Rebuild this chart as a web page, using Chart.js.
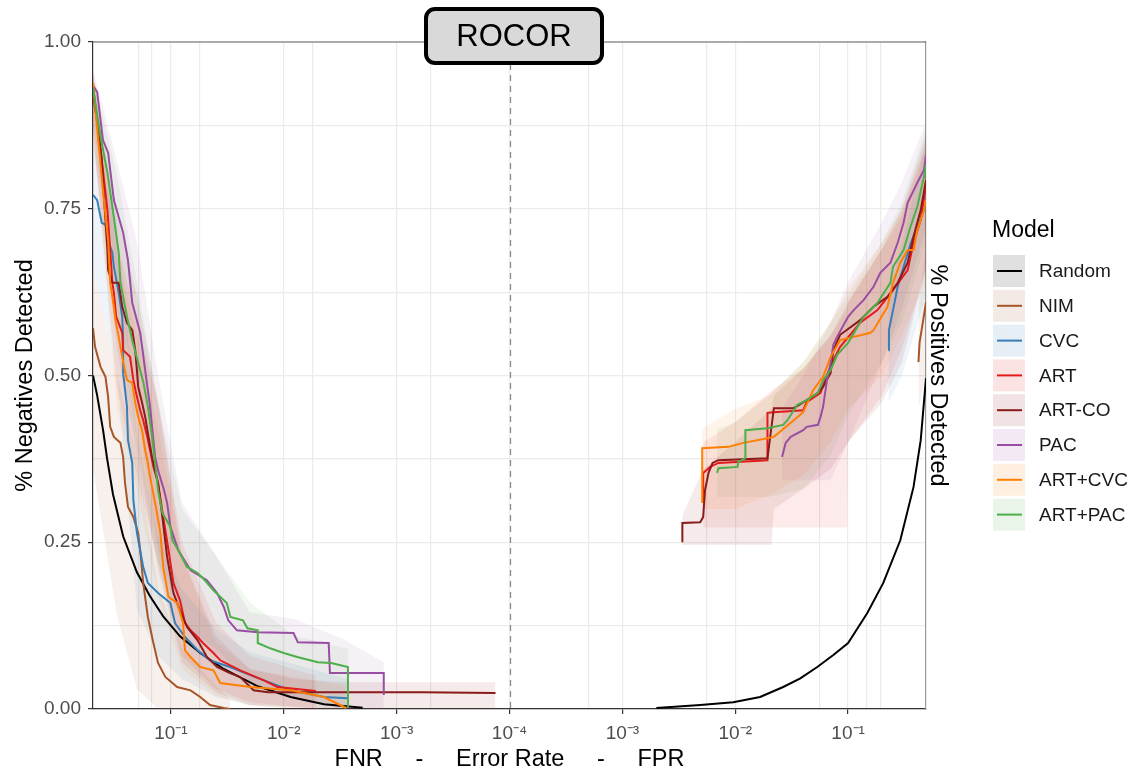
<!DOCTYPE html>
<html>
<head>
<meta charset="utf-8">
<title>ROCOR</title>
<script src="https://cdn.jsdelivr.net/npm/chart.js@4.4.1/dist/chart.umd.min.js"></script>
<style>
  html, body { margin: 0; padding: 0; background: #fff; }
</style>
</head>
<body>
<canvas id="rocChart" width="1132" height="775"></canvas>
<script>
// ---------- data ----------
const modelNames = ['Random', 'NIM', 'CVC', 'ART', 'ART-CO', 'PAC', 'ART+CVC', 'ART+PAC'];

// left half: FNR -> share of negatives detected
const randomFnr = [0.49, 0.451, 0.399, 0.368, 0.326, 0.265, 0.2, 0.153, 0.117, 0.083, 0.055, 0.034, 0.017, 0.0087, 0.0044, 0.002];
const randomNeg = [0.500, 0.471, 0.418, 0.376, 0.322, 0.259, 0.205, 0.169, 0.139, 0.109, 0.084, 0.060, 0.034, 0.018, 0.007, 0.002];
const nimFnr = [0.49, 0.47, 0.42, 0.38, 0.36, 0.345, 0.32, 0.28, 0.265, 0.255, 0.24, 0.215, 0.195, 0.187, 0.176, 0.16, 0.143, 0.13, 0.112, 0.088, 0.067, 0.055, 0.045, 0.034, 0.03];
const nimNeg = [0.571, 0.543, 0.513, 0.498, 0.468, 0.423, 0.408, 0.399, 0.378, 0.339, 0.303, 0.288, 0.264, 0.238, 0.189, 0.138, 0.099, 0.069, 0.048, 0.033, 0.028, 0.018, 0.006, 0.0015, 0];
const cvcFnr = [0.49, 0.45, 0.41, 0.38, 0.36, 0.33, 0.32, 0.29, 0.27, 0.265, 0.265, 0.245, 0.24, 0.22, 0.215, 0.2, 0.176, 0.16, 0.13, 0.101, 0.092, 0.075, 0.058, 0.045, 0.03, 0.015, 0.0087, 0.0044, 0.0027];
const cvcNeg = [0.771, 0.763, 0.729, 0.726, 0.703, 0.684, 0.663, 0.624, 0.588, 0.558, 0.504, 0.453, 0.403, 0.369, 0.313, 0.264, 0.213, 0.189, 0.174, 0.159, 0.129, 0.108, 0.088, 0.073, 0.063, 0.043, 0.028, 0.018, 0.016];
const artFnr = [0.49, 0.44, 0.40, 0.365, 0.345, 0.33, 0.32, 0.305, 0.27, 0.265, 0.23, 0.215, 0.2, 0.187, 0.176, 0.162, 0.153, 0.143, 0.13, 0.117, 0.105, 0.095, 0.083, 0.075, 0.067, 0.058, 0.052, 0.042, 0.0365, 0.0243, 0.015, 0.0114, 0.0052];
const artNeg = [0.921, 0.868, 0.808, 0.748, 0.688, 0.639, 0.624, 0.588, 0.564, 0.538, 0.528, 0.493, 0.468, 0.448, 0.433, 0.408, 0.388, 0.363, 0.339, 0.288, 0.238, 0.189, 0.163, 0.129, 0.118, 0.108, 0.099, 0.084, 0.073, 0.058, 0.043, 0.033, 0.027];
const acoFnr = [0.49, 0.45, 0.41, 0.39, 0.365, 0.36, 0.33, 0.29, 0.27, 0.245, 0.22, 0.207, 0.2, 0.195, 0.18, 0.169, 0.16, 0.147, 0.13, 0.119, 0.108, 0.095, 0.083, 0.072, 0.058, 0.048, 0.039, 0.03, 0.0243, 0.0185, 0.0138, 0.0006, 0.000133];
const acoNeg = [0.931, 0.883, 0.823, 0.763, 0.688, 0.658, 0.639, 0.639, 0.603, 0.579, 0.568, 0.538, 0.508, 0.483, 0.459, 0.438, 0.414, 0.378, 0.339, 0.288, 0.228, 0.174, 0.148, 0.123, 0.103, 0.078, 0.063, 0.054, 0.048, 0.028, 0.025, 0.025, 0.024];
const pacFnr = [0.49, 0.45, 0.40, 0.36, 0.32, 0.265, 0.24, 0.22, 0.187, 0.169, 0.153, 0.138, 0.13, 0.115, 0.108, 0.101, 0.086, 0.067, 0.048, 0.039, 0.034, 0.031, 0.026, 0.017, 0.0082, 0.0075, 0.004, 0.0039, 0.0013, 0.0013];
const pacNeg = [0.935, 0.925, 0.853, 0.834, 0.763, 0.714, 0.673, 0.609, 0.564, 0.508, 0.453, 0.378, 0.358, 0.328, 0.309, 0.273, 0.238, 0.208, 0.193, 0.174, 0.153, 0.133, 0.118, 0.115, 0.114, 0.100, 0.099, 0.054, 0.054, 0.021];
const acFnr = [0.49, 0.44, 0.40, 0.36, 0.345, 0.32, 0.31, 0.29, 0.27, 0.245, 0.22, 0.207, 0.195, 0.18, 0.169, 0.16, 0.153, 0.138, 0.124, 0.117, 0.105, 0.088, 0.078, 0.075, 0.067, 0.055, 0.042, 0.0365, 0.0198, 0.0087, 0.0044, 0.0028];
const acNeg = [0.939, 0.853, 0.778, 0.703, 0.639, 0.603, 0.583, 0.558, 0.528, 0.493, 0.489, 0.459, 0.438, 0.418, 0.388, 0.369, 0.348, 0.309, 0.264, 0.213, 0.168, 0.159, 0.129, 0.088, 0.078, 0.063, 0.058, 0.039, 0.033, 0.028, 0.018, 0.0015];
const apFnr = [0.49, 0.42, 0.365, 0.33, 0.29, 0.28, 0.245, 0.22, 0.195, 0.175, 0.16, 0.147, 0.138, 0.13, 0.119, 0.101, 0.097, 0.086, 0.072, 0.058, 0.050, 0.042, 0.032, 0.0297, 0.023, 0.021, 0.017, 0.017, 0.0132, 0.010, 0.0076, 0.005, 0.0038, 0.0027, 0.0027];
const apNeg = [0.931, 0.858, 0.804, 0.753, 0.684, 0.639, 0.588, 0.553, 0.519, 0.489, 0.453, 0.408, 0.369, 0.328, 0.294, 0.273, 0.253, 0.238, 0.213, 0.204, 0.193, 0.178, 0.159, 0.138, 0.133, 0.121, 0.118, 0.099, 0.091, 0.084, 0.078, 0.070, 0.069, 0.063, 0.003];

// right half: FPR -> share of positives detected
const randomFpr = [0.002, 0.0049, 0.0096, 0.0166, 0.0266, 0.0377, 0.0533, 0.074, 0.1, 0.148, 0.205, 0.29, 0.38, 0.44, 0.49];
const randomPos = [0.0015, 0.006, 0.010, 0.018, 0.033, 0.046, 0.063, 0.081, 0.099, 0.144, 0.189, 0.253, 0.333, 0.403, 0.496];
const nimFpr = [0.42, 0.43, 0.46, 0.49];
const nimPos = [0.52, 0.55, 0.58, 0.61];
const cvcFpr = [0.228, 0.23, 0.25, 0.275, 0.31, 0.36, 0.41, 0.49];
const cvcPos = [0.538, 0.568, 0.598, 0.633, 0.663, 0.699, 0.723, 0.756];
const artFpr = [0.0052, 0.0052, 0.006, 0.0071, 0.0193, 0.0193, 0.022, 0.040, 0.043, 0.057, 0.065, 0.074, 0.085, 0.128, 0.182, 0.25, 0.337, 0.38, 0.44, 0.49];
const artPos = [0.309, 0.354, 0.363, 0.369, 0.373, 0.444, 0.445, 0.448, 0.460, 0.474, 0.501, 0.523, 0.543, 0.579, 0.598, 0.628, 0.658, 0.699, 0.733, 0.786];
const acoFpr = [0.0034, 0.0034, 0.0049, 0.0052, 0.0054, 0.0058, 0.0063, 0.0071, 0.0193, 0.022, 0.033, 0.043, 0.054, 0.06, 0.07, 0.074, 0.085, 0.128, 0.168, 0.223, 0.275, 0.337, 0.38, 0.44, 0.49];
const acoPos = [0.250, 0.279, 0.280, 0.288, 0.328, 0.354, 0.369, 0.373, 0.376, 0.451, 0.451, 0.463, 0.474, 0.483, 0.504, 0.538, 0.561, 0.583, 0.603, 0.618, 0.639, 0.669, 0.708, 0.748, 0.793];
const pacFpr = [0.026, 0.028, 0.031, 0.04, 0.043, 0.054, 0.057, 0.06, 0.065, 0.07, 0.074, 0.08, 0.1, 0.112, 0.137, 0.168, 0.193, 0.237, 0.275, 0.31, 0.337, 0.41, 0.47, 0.49];
const pacPos = [0.378, 0.399, 0.408, 0.418, 0.423, 0.426, 0.438, 0.453, 0.493, 0.519, 0.546, 0.558, 0.588, 0.598, 0.613, 0.633, 0.654, 0.669, 0.699, 0.729, 0.759, 0.789, 0.808, 0.831];
const acFpr = [0.0051, 0.0051, 0.0087, 0.0118, 0.0193, 0.022, 0.033, 0.040, 0.049, 0.06, 0.07, 0.085, 0.158, 0.168, 0.223, 0.25, 0.29, 0.337, 0.38, 0.41, 0.47, 0.49];
const acPos = [0.309, 0.391, 0.393, 0.399, 0.406, 0.408, 0.433, 0.445, 0.478, 0.498, 0.528, 0.553, 0.564, 0.568, 0.603, 0.639, 0.669, 0.688, 0.688, 0.718, 0.748, 0.763];
const apFpr = [0.0069, 0.0071, 0.0105, 0.0106, 0.0123, 0.0123, 0.0193, 0.0266, 0.029, 0.0355, 0.043, 0.054, 0.06, 0.07, 0.08, 0.1, 0.137, 0.182, 0.237, 0.25, 0.31, 0.357, 0.41, 0.47, 0.49];
const apPos = [0.354, 0.361, 0.363, 0.370, 0.376, 0.418, 0.421, 0.426, 0.433, 0.456, 0.463, 0.474, 0.493, 0.508, 0.531, 0.549, 0.588, 0.609, 0.639, 0.663, 0.688, 0.723, 0.753, 0.798, 0.816];

// confidence bands (lower / upper edge)
const nimBandFnr = [0.49, 0.3, 0.2, 0.13, 0.08, 0.04, 0.03];
const nimBandLo  = [0.36, 0.14, 0.03, 0, 0, 0, 0];
const nimBandHi  = [0.66, 0.50, 0.38, 0.18, 0.09, 0.035, 0.015];
const cvcBandFnr = [0.49, 0.3, 0.2, 0.13, 0.08, 0.04, 0.02, 0.0027];
const cvcBandLo  = [0.66, 0.50, 0.15, 0.08, 0.045, 0.018, 0.006, 0];
const cvcBandHi  = [0.85, 0.73, 0.41, 0.26, 0.18, 0.12, 0.085, 0.045];
const artBandFnr = [0.49, 0.3, 0.2, 0.13, 0.08, 0.04, 0.02, 0.0052];
const artBandLo  = [0.86, 0.48, 0.35, 0.22, 0.08, 0.03, 0.01, 0];
const artBandHi  = [0.95, 0.70, 0.58, 0.46, 0.25, 0.13, 0.08, 0.05];
const acoBandFnr = [0.49, 0.3, 0.2, 0.13, 0.08, 0.04, 0.02, 0.008, 0.003, 0.000133];
const acoBandLo  = [0.86, 0.54, 0.38, 0.21, 0.07, 0.025, 0.006, 0, 0, 0];
const acoBandHi  = [0.95, 0.74, 0.62, 0.46, 0.23, 0.11, 0.06, 0.045, 0.04, 0.04];
const pacBandFnr = [0.49, 0.3, 0.2, 0.13, 0.08, 0.04, 0.02, 0.008, 0.003, 0.0013];
const pacBandLo  = [0.88, 0.65, 0.45, 0.24, 0.13, 0.08, 0.04, 0.015, 0, 0];
const pacBandHi  = [0.96, 0.82, 0.70, 0.50, 0.31, 0.23, 0.145, 0.135, 0.105, 0.07];
const acBandFnr  = [0.49, 0.3, 0.2, 0.13, 0.08, 0.04, 0.02, 0.0028];
const acBandLo   = [0.87, 0.45, 0.33, 0.17, 0.06, 0.02, 0.005, 0];
const acBandHi   = [0.96, 0.68, 0.56, 0.42, 0.23, 0.10, 0.06, 0.035];
const apBandFnr  = [0.49, 0.3, 0.2, 0.13, 0.08, 0.04, 0.02, 0.008, 0.0027];
const apBandLo   = [0.87, 0.60, 0.40, 0.22, 0.13, 0.09, 0.04, 0.015, 0];
const apBandHi   = [0.95, 0.80, 0.64, 0.46, 0.30, 0.23, 0.16, 0.11, 0.09];

const nimBandFpr = [0.42, 0.49];
const nimBandPosLo = [0.45, 0.50];
const nimBandPosHi = [0.60, 0.70];
const cvcBandFpr = [0.228, 0.3, 0.49];
const cvcBandPosLo = [0.46, 0.50, 0.62];
const cvcBandPosHi = [0.62, 0.70, 0.85];
const artBandFpr = [0.0052, 0.01, 0.022, 0.04, 0.07, 0.098, 0.1, 0.2, 0.3, 0.49];
const artBandPosLo = [0.272, 0.272, 0.272, 0.272, 0.272, 0.272, 0.40, 0.47, 0.54, 0.66];
const artBandPosHi = [0.40, 0.43, 0.48, 0.51, 0.56, 0.60, 0.61, 0.69, 0.74, 0.85];
const acoBandFpr = [0.0034, 0.0052, 0.01, 0.021, 0.022, 0.04, 0.07, 0.1, 0.2, 0.3, 0.49];
const acoBandPosLo = [0.246, 0.246, 0.246, 0.246, 0.30, 0.33, 0.36, 0.40, 0.46, 0.52, 0.66];
const acoBandPosHi = [0.29, 0.36, 0.40, 0.45, 0.47, 0.51, 0.56, 0.61, 0.69, 0.75, 0.86];
const pacBandFpr = [0.026, 0.04, 0.07, 0.1, 0.2, 0.3, 0.49];
const pacBandPosLo = [0.343, 0.343, 0.343, 0.40, 0.52, 0.60, 0.72];
const pacBandPosHi = [0.45, 0.50, 0.58, 0.64, 0.73, 0.79, 0.88];
const acBandFpr = [0.0051, 0.01, 0.02, 0.04, 0.07, 0.1, 0.2, 0.3, 0.49];
const acBandPosLo = [0.30, 0.30, 0.32, 0.35, 0.40, 0.45, 0.50, 0.56, 0.64];
const acBandPosHi = [0.42, 0.45, 0.47, 0.52, 0.58, 0.63, 0.70, 0.75, 0.84];
const apBandFpr = [0.0069, 0.01, 0.02, 0.04, 0.07, 0.1, 0.2, 0.3, 0.49];
const apBandPosLo = [0.318, 0.318, 0.318, 0.33, 0.38, 0.44, 0.52, 0.58, 0.70];
const apBandPosHi = [0.42, 0.43, 0.47, 0.52, 0.58, 0.62, 0.70, 0.76, 0.87];

// axis ticks
const yTickValues = [0, 0.25, 0.5, 0.75, 1];
const yMinorValues = [0.125, 0.375, 0.625, 0.875];
const xTickLabels = ['10⁻¹', '10⁻²', '10⁻³', '10⁻⁴', '10⁻³', '10⁻²', '10⁻¹'];
const xMinorRates = [0.195, 0.147, 0.056, 0.0056, 0.0005];
const axisEdgeRate = 0.49;

// ---------- styling ----------
const modelColors = ['#000000', '#a65628', '#377eb8', '#e41a1c', '#8b1a1a', '#984ea3', '#ff7f00', '#4daf4a'];
const bandAlpha = 0.085;

Chart.defaults.font.family = '"Liberation Sans", Arial, sans-serif';

function rgba(hex, a) {
  const n = parseInt(hex.slice(1), 16);
  return `rgba(${(n >> 16) & 255}, ${(n >> 8) & 255}, ${n & 255}, ${a})`;
}

// mirrored log axis: FNR on the left, FPR on the right, 1e-4 in the middle
const leftU = v => -(Math.log10(v) + 4);
const rightU = v => Math.log10(v) + 4;
const toPoints = (xs, ys, f) => xs.map((v, i) => ({ x: f(v), y: ys[i] }));

const models = [
  { left: [randomFnr, randomNeg], right: [randomFpr, randomPos], bandL: null, bandR: null },
  { left: [nimFnr, nimNeg], right: [nimFpr, nimPos], bandL: [nimBandFnr, nimBandLo, nimBandHi], bandR: [nimBandFpr, nimBandPosLo, nimBandPosHi] },
  { left: [cvcFnr, cvcNeg], right: [cvcFpr, cvcPos], bandL: [cvcBandFnr, cvcBandLo, cvcBandHi], bandR: [cvcBandFpr, cvcBandPosLo, cvcBandPosHi] },
  { left: [artFnr, artNeg], right: [artFpr, artPos], bandL: [artBandFnr, artBandLo, artBandHi], bandR: [artBandFpr, artBandPosLo, artBandPosHi] },
  { left: [acoFnr, acoNeg], right: [acoFpr, acoPos], bandL: [acoBandFnr, acoBandLo, acoBandHi], bandR: [acoBandFpr, acoBandPosLo, acoBandPosHi] },
  { left: [pacFnr, pacNeg], right: [pacFpr, pacPos], bandL: [pacBandFnr, pacBandLo, pacBandHi], bandR: [pacBandFpr, pacBandPosLo, pacBandPosHi] },
  { left: [acFnr, acNeg], right: [acFpr, acPos], bandL: [acBandFnr, acBandLo, acBandHi], bandR: [acBandFpr, acBandPosLo, acBandPosHi] },
  { left: [apFnr, apNeg], right: [apFpr, apPos], bandL: [apBandFnr, apBandLo, apBandHi], bandR: [apBandFpr, apBandPosLo, apBandPosHi] }
];

const datasets = [];
// bands first (edges invisible, upper edge filled down to lower edge)
models.forEach((m, k) => {
  [[m.bandL, leftU], [m.bandR, rightU]].forEach(([b, f]) => {
    if (!b) return;
    const loIndex = datasets.length;
    datasets.push({ data: toPoints(b[0], b[1], f), borderColor: 'rgba(0,0,0,0)', borderWidth: 0, pointRadius: 0, fill: false, order: 50 });
    datasets.push({ data: toPoints(b[0], b[2], f), borderColor: 'rgba(0,0,0,0)', borderWidth: 0, pointRadius: 0, fill: loIndex, backgroundColor: rgba(modelColors[k], bandAlpha), order: 50 });
  });
});
// curves, later models on top
models.forEach((m, k) => {
  [[m.left, leftU], [m.right, rightU]].forEach(([s, f]) => {
    datasets.push({ label: modelNames[k], data: toPoints(s[0], s[1], f), borderColor: modelColors[k], borderWidth: 2, pointRadius: 0, fill: false, tension: 0, order: 20 - k });
  });
});

const xMajor = xTickLabels.map((t, i) => i - 3);
const xTickPositions = [...xMajor, ...xMinorRates.map(leftU), ...xMinorRates.map(rightU)].sort((a, b) => a - b);
const yTickPositions = [...yTickValues, ...yMinorValues].sort((a, b) => a - b);

// dashed centre line, panel top border, title box, legend
const decorations = {
  id: 'decorations',
  beforeDatasetsDraw(chart) {
    const { ctx, chartArea: a, scales: { x } } = chart;
    const cx = Math.round(x.getPixelForValue(0)) + 0.5;
    ctx.save();
    ctx.strokeStyle = '#8c8c8c';
    ctx.lineWidth = 1.3;
    ctx.setLineDash([6, 5]);
    ctx.beginPath();
    ctx.moveTo(cx, a.top);
    ctx.lineTo(cx, a.bottom);
    ctx.stroke();
    ctx.restore();
  },
  afterDraw(chart) {
    const { ctx, chartArea: a } = chart;
    ctx.save();
    ctx.strokeStyle = '#666';
    ctx.lineWidth = 1.2;
    ctx.beginPath();
    ctx.moveTo(a.left, a.top);
    ctx.lineTo(a.right, a.top);
    ctx.stroke();

    // title box
    const bx = 426, by = 9, bw = 176, bh = 54, r = 9;
    ctx.beginPath();
    ctx.moveTo(bx + r, by);
    ctx.arcTo(bx + bw, by, bx + bw, by + bh, r);
    ctx.arcTo(bx + bw, by + bh, bx, by + bh, r);
    ctx.arcTo(bx, by + bh, bx, by, r);
    ctx.arcTo(bx, by, bx + bw, by, r);
    ctx.closePath();
    ctx.fillStyle = '#d9d9d9';
    ctx.fill();
    ctx.lineWidth = 4;
    ctx.strokeStyle = '#000';
    ctx.stroke();
    ctx.fillStyle = '#000';
    ctx.font = '31px "Liberation Sans", Arial, sans-serif';
    ctx.textAlign = 'center';
    ctx.textBaseline = 'middle';
    ctx.fillText('ROCOR', bx + bw / 2, by + bh / 2 + 1);

    // legend
    ctx.textAlign = 'left';
    ctx.fillStyle = '#000';
    ctx.font = '23px "Liberation Sans", Arial, sans-serif';
    ctx.fillText('Model', 992, 231);
    modelNames.forEach((name, k) => {
      const cy = 271 + k * 34.8;
      ctx.fillStyle = '#ffffff';
      ctx.fillRect(993, cy - 16, 32, 32);
      ctx.fillStyle = rgba(modelColors[k], 0.12);
      ctx.fillRect(993, cy - 16, 32, 32);
      ctx.strokeStyle = modelColors[k];
      ctx.lineWidth = 2;
      ctx.beginPath();
      ctx.moveTo(997, cy);
      ctx.lineTo(1022, cy);
      ctx.stroke();
      ctx.fillStyle = '#1a1a1a';
      ctx.font = '19px "Liberation Sans", Arial, sans-serif';
      ctx.fillText(name, 1039, cy + 1);
    });
    ctx.restore();
  }
};

new Chart(document.getElementById('rocChart'), {
  type: 'line',
  data: { datasets },
  plugins: [decorations],
  options: {
    responsive: false,
    animation: false,
    events: [],
    layout: { padding: { top: 42, right: 164, bottom: 0, left: 0 } },
    plugins: {
      legend: { display: false },
      tooltip: { enabled: false },
      filler: { drawTime: 'beforeDatasetsDraw' }
    },
    scales: {
      x: {
        type: 'linear',
        min: leftU(axisEdgeRate),
        max: rightU(axisEdgeRate),
        afterBuildTicks: s => { s.ticks = xTickPositions.map(v => ({ value: v })); },
        ticks: {
          autoSkip: false,
          maxRotation: 0,
          color: '#4d4d4d',
          font: { size: 19 },
          padding: 8,
          callback: v => { const i = xMajor.indexOf(v); return i >= 0 ? xTickLabels[i] : ''; }
        },
        grid: {
          color: '#ebebeb',
          lineWidth: 1.2,
          tickLength: 5,
          tickWidth: 1.2,
          tickColor: c => (c.tick && xMajor.includes(c.tick.value)) ? '#333' : 'rgba(0,0,0,0)'
        },
        border: { color: '#333', width: 1.2 },
        title: {
          display: true,
          text: 'FNR     -     Error Rate     -     FPR',
          color: '#000',
          font: { size: 23.5 },
          padding: { top: 0, bottom: 1 }
        },
        afterFit: s => { s.height = 66; }
      },
      y: {
        min: 0,
        max: 1,
        afterBuildTicks: s => { s.ticks = yTickPositions.map(v => ({ value: v })); },
        ticks: {
          autoSkip: false,
          color: '#4d4d4d',
          font: { size: 19 },
          padding: 7,
          callback: v => yTickValues.includes(v) ? v.toFixed(2) : ''
        },
        grid: {
          color: '#ebebeb',
          lineWidth: 1.2,
          tickLength: 5,
          tickWidth: 1.2,
          tickColor: c => (c.tick && yTickValues.includes(c.tick.value)) ? '#333' : 'rgba(0,0,0,0)'
        },
        border: { color: '#333', width: 1.2 },
        title: {
          display: true,
          text: '% Negatives Detected',
          color: '#000',
          font: { size: 23.5 },
          padding: { top: 11, bottom: 0 }
        },
        afterFit: s => { s.width = 93; }
      },
      y2: {
        position: 'right',
        min: 0,
        max: 1,
        ticks: { display: false },
        grid: { drawOnChartArea: false, drawTicks: false },
        border: { color: '#999', width: 1.2 },
        title: {
          display: true,
          text: '% Positives Detected',
          color: '#000',
          font: { size: 23.5 },
          padding: { top: 16, bottom: 0 }
        },
        afterFit: s => { s.width = 42; }
      }
    }
  }
});
</script>
</body>
</html>
